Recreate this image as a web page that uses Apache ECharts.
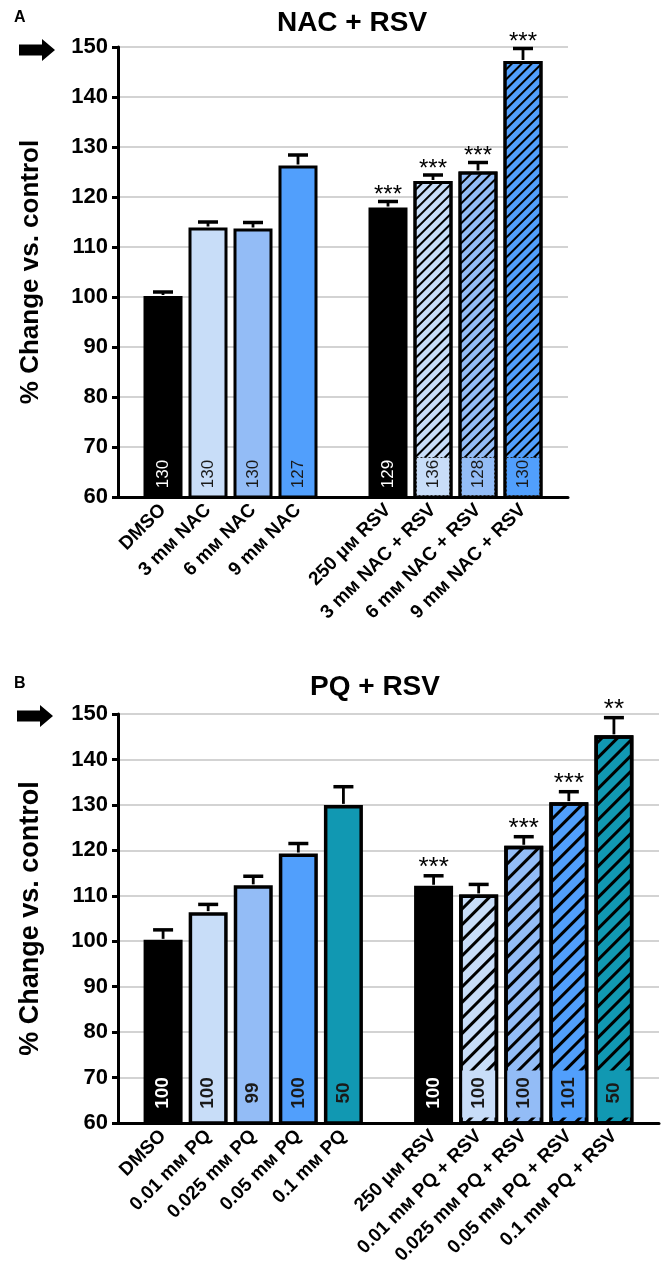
<!DOCTYPE html>
<html lang="en">
<head>
<meta charset="UTF-8" />
<title>NAC + RSV / PQ + RSV</title>
<script src="https://cdn.jsdelivr.net/npm/echarts@6.0.0/dist/echarts.min.js"></script>
<style>html,body{margin:0;padding:0;background:#fff}</style>
</head>
<body>
<div id="main" style="width:665px;height:1278px"></div>
<script>
// panel A: NAC + RSV
const catsA = ['DMSO', '3 mᴍ NAC', '6 mᴍ NAC', '9 mᴍ NAC', '250 μᴍ RSV', '3 mᴍ NAC + RSV', '6 mᴍ NAC + RSV', '9 mᴍ NAC + RSV'];
const valsA = [100.2, 113.9, 113.7, 126.3, 117.9, 123.2, 125.1, 147.2];
const errA = [0.8, 1.1, 1.2, 2.1, 1.2, 1.2, 1.8, 2.5];
const nA = [130, 130, 130, 127, 129, 136, 128, 130];
const sigA = ['', '', '', '', '***', '***', '***', '***'];

// panel B: PQ + RSV
const catsB = ['DMSO', '0.01 mᴍ PQ', '0.025 mᴍ PQ', '0.05 mᴍ PQ', '0.1 mᴍ PQ', '250 μᴍ RSV', '0.01 mᴍ PQ + RSV', '0.025 mᴍ PQ + RSV', '0.05 mᴍ PQ + RSV', '0.1 mᴍ PQ + RSV'];
const valsB = [100.3, 106.4, 112.3, 119.3, 130.0, 112.2, 110.3, 121.0, 130.6, 145.3];
const errB = [2.2, 1.7, 2.0, 2.2, 4.0, 2.2, 2.2, 2.0, 2.3, 3.9];
const nB = [100, 100, 99, 100, 50, 100, 100, 100, 101, 50];
const sigB = ['', '', '', '', '', '***', '', '***', '***', '**'];

const FONT = '"Liberation Sans", Arial, sans-serif';
const LIGHT = '#c8ddf8', MID = '#93bcf6', BLUE = '#519ffc', TEAL = '#1198b2';

function panel(k, cfg) {
  const half = cfg.cats.length / 2;
  const idx = i => (i < half ? i + 1 : i + 2);
  const axisCats = ['', ...cfg.cats.slice(0, half), '', ...cfg.cats.slice(half), ''];
  const barData = axisCats.map(() => '-');
  cfg.vals.forEach((v, i) => {
    const item = { value: v, itemStyle: { color: cfg.colors[i] } };
    if (cfg.hatch[i]) {
      item.itemStyle.decal = {
        symbol: 'rect', symbolSize: 1, color: '#000',
        dashArrayX: [1, 0], dashArrayY: cfg.hatchDash, rotation: -Math.PI / 4
      };
    }
    barData[idx(i)] = item;
  });
  const pts = cfg.vals.map((v, i) => [idx(i), v, cfg.err[i]]);

  return {
    grid: Object.assign({ outerBoundsMode: 'none', containLabel: false }, cfg.grid),
    xAxis: {
      gridIndex: k, type: 'category', data: axisCats, boundaryGap: false,
      axisLine: { lineStyle: { color: '#000', width: 3 } },
      axisTick: { show: false },
      axisLabel: { interval: 0, rotate: 45, margin: 10, color: '#000', fontSize: 19, fontWeight: 'bold', fontFamily: FONT }
    },
    yAxis: {
      gridIndex: k, type: 'value', min: 60, max: 150, interval: 10,
      name: '% Change vs. control', nameLocation: 'middle', nameGap: 74,
      nameTextStyle: { color: '#000', fontSize: cfg.nameSize, fontWeight: 'bold', fontFamily: FONT },
      axisLine: { show: true, lineStyle: { color: '#000', width: 3 } },
      axisTick: { show: true, length: 6, lineStyle: { color: '#000', width: 3 } },
      splitLine: { show: true, lineStyle: { color: '#c4c4c4', width: 1.5 } },
      axisLabel: { color: '#000', fontSize: 22, fontWeight: 'bold', fontFamily: FONT, margin: 10 }
    },
    series: [
      {
        type: 'bar', xAxisIndex: k, yAxisIndex: k, data: barData, barWidth: cfg.barW,
        itemStyle: { borderColor: '#000', borderWidth: cfg.border }, z: 2
      },
      {
        // error bars and significance stars
        type: 'custom', xAxisIndex: k, yAxisIndex: k, data: pts, z: 3,
        renderItem: (params, api) => {
          const i = params.dataIndex;
          const x = api.value(0), v = api.value(1), e = api.value(2);
          const p0 = api.coord([x, v]);
          const p1 = api.coord([x, v + e]);
          const ch = [
            { type: 'line', shape: { x1: p0[0], y1: p0[1] - 1, x2: p1[0], y2: p1[1] }, style: { stroke: '#000', lineWidth: 2.8 } },
            { type: 'line', shape: { x1: p1[0] - 10, y1: p1[1], x2: p1[0] + 10, y2: p1[1] }, style: { stroke: '#000', lineWidth: 3.5 } }
          ];
          if (cfg.sig[i]) {
            ch.push({ type: 'text', x: p1[0], y: p1[1] - cfg.starOff,
              style: { text: cfg.sig[i], font: cfg.starFont, fill: '#000', align: 'center', verticalAlign: 'middle' } });
          }
          return { type: 'group', children: ch };
        }
      },
      {
        // sample sizes at the foot of the bars
        type: 'custom', xAxisIndex: k, yAxisIndex: k, data: pts, z: 4,
        renderItem: (params, api) => {
          const i = params.dataIndex;
          const b = api.coord([api.value(0), 60]);
          const ch = [];
          if (cfg.hatch[i]) {
            ch.push({ type: 'rect',
              shape: { x: b[0] - cfg.barW / 2 + 3, y: b[1] - cfg.boxBot - cfg.boxH, width: cfg.barW - 6, height: cfg.boxH },
              style: { fill: cfg.colors[i], stroke: cfg.boxStroke, lineWidth: 1, lineDash: [2, 2] } });
          }
          ch.push({ type: 'text', x: b[0], y: b[1] - cfg.textOff, rotation: Math.PI / 2,
            style: { text: String(cfg.n[i]), font: cfg.nFont, fill: cfg.colors[i] === '#000' ? '#fff' : '#1a1a1a',
              align: 'center', verticalAlign: 'middle' } });
          return { type: 'group', children: ch };
        }
      }
    ]
  };
}

const pA = panel(0, {
  cats: catsA, vals: valsA, err: errA, n: nA, sig: sigA,
  colors: ['#000', LIGHT, MID, BLUE, '#000', LIGHT, MID, BLUE],
  hatch: [false, false, false, false, false, true, true, true],
  hatchDash: [2, 5], barW: 39, border: 3, nameSize: 26,
  grid: { left: 118, top: 47, width: 450, height: 450 },
  starFont: '24px ' + FONT, starOff: 6,
  nFont: '17px ' + FONT, textOff: 23, boxH: 38, boxBot: 1.5, boxStroke: '#222'
});
const pB = panel(1, {
  cats: catsB, vals: valsB, err: errB, n: nB, sig: sigB,
  colors: ['#000', LIGHT, MID, BLUE, TEAL, '#000', LIGHT, MID, BLUE, TEAL],
  hatch: [false, false, false, false, false, false, true, true, true, true],
  hatchDash: [3, 8], barW: 39, border: 3.5, nameSize: 27,
  grid: { left: 118, top: 714, width: 541, height: 409 },
  starFont: '26px ' + FONT, starOff: 8,
  nFont: 'bold 19px ' + FONT, textOff: 30, boxH: 47, boxBot: 5.5, boxStroke: null
});

function arrow(x, y) {
  return { type: 'polygon', shape: { points: [[x, y - 5.5], [x + 23, y - 5.5], [x + 23, y - 11], [x + 36, y], [x + 23, y + 11], [x + 23, y + 5.5], [x, y + 5.5]] },
    style: { fill: '#000' } };
}

const chart = echarts.init(document.getElementById('main'));
chart.setOption({
  animation: false,
  backgroundColor: '#fff',
  grid: [pA.grid, pB.grid],
  xAxis: [pA.xAxis, pB.xAxis],
  yAxis: [pA.yAxis, pB.yAxis],
  series: [...pA.series, ...pB.series],
  graphic: [
    { type: 'text', x: 352, y: 9, style: { text: 'NAC + RSV', font: 'bold 28px ' + FONT, fill: '#000', align: 'center' } },
    { type: 'text', x: 375, y: 673, style: { text: 'PQ + RSV', font: 'bold 28px ' + FONT, fill: '#000', align: 'center' } },
    { type: 'text', x: 14, y: 10, style: { text: 'A', font: 'bold 16px ' + FONT, fill: '#000' } },
    { type: 'text', x: 14, y: 676, style: { text: 'B', font: 'bold 16px ' + FONT, fill: '#000' } },
    arrow(19, 50),
    arrow(17, 716)
  ]
});
</script>
</body>
</html>
